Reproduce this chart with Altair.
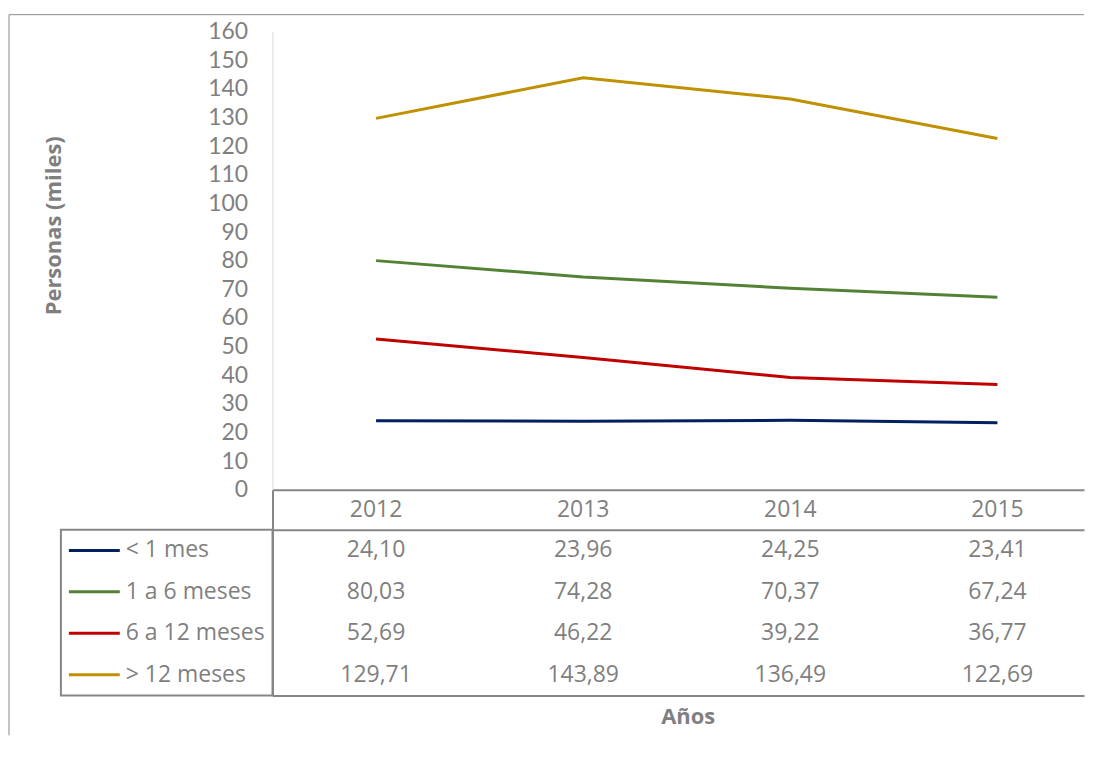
import altair as alt
import pandas as pd

# ---- data -------------------------------------------------------------
years = ["2012", "2013", "2014", "2015"]
series = ["< 1 mes", "1 a 6 meses", "6 a 12 meses", "> 12 meses"]
v_lt1 = [24.10, 23.96, 24.25, 23.41]
v_1a6 = [80.03, 74.28, 70.37, 67.24]
v_6a12 = [52.69, 46.22, 39.22, 36.77]
v_gt12 = [129.71, 143.89, 136.49, 122.69]
colors = ["#002060", "#548235", "#C00000", "#BF9000"]
y_ticks = list(range(0, 161, 10))

rows = []
for s, vals in zip(series, [v_lt1, v_1a6, v_6a12, v_gt12]):
    for yr, v in zip(years, vals):
        rows.append({"serie": s, "anio": yr, "valor": v,
                     "texto": f"{v:.2f}".replace(".", ",")})
df = pd.DataFrame(rows)
df_years = pd.DataFrame({"anio": years, "fila": ["h"] * len(years)})
df_series = pd.DataFrame({"serie": series})
dummy = pd.DataFrame({"k": [0]})

# ---- style ------------------------------------------------------------
FONT = "Open Sans"
AXFONT = "Lato"
GRAY = "#7f7f7f"
LINE = "#868686"
W, H = 813, 459          # visible plot width / height
XR = [0, 830]            # category range (plot runs past the window edge)
LW = 212
HH, TH = 40, 166
LBL = 23
TTL = 22

color_scale = alt.Scale(domain=series, range=colors)


def frame_layer(**axis_kw):
    """Invisible layer that only draws a bottom axis line across the panel."""
    ax = dict(labels=False, ticks=False, grid=False, title=None,
              domainColor=LINE, domainWidth=2)
    ax.update(axis_kw)
    return alt.Chart(dummy).mark_point(opacity=0).encode(
        x=alt.X("k:Q", scale=alt.Scale(domain=[0, 1]), axis=alt.Axis(**ax)))


# ---- top-left spacer with the outer frame -----------------------------
frame_v = alt.Chart(dummy).mark_rule(color="#8a8a8a", strokeWidth=1).encode(
    x=alt.value(-52), y=alt.value(-17), y2=alt.value(705))
frame_h = alt.Chart(dummy).mark_rule(color="#8a8a8a", strokeWidth=1).encode(
    x=alt.value(-52), x2=alt.value(1025), y=alt.value(-17))
spacer_top = alt.layer(frame_v, frame_h).properties(width=LW, height=H)

# ---- line chart -------------------------------------------------------
lines_l = alt.Chart(df).mark_line(strokeWidth=3).encode(
    x=alt.X("anio:N", sort=years,
            scale=alt.Scale(type="point", padding=0.5, range=XR), axis=None),
    y=alt.Y("valor:Q", scale=alt.Scale(domain=[0, 160], nice=False),
            axis=alt.Axis(values=y_ticks, grid=False, ticks=False,
                          domainColor="#d9d9d9", domainWidth=1,
                          labelPadding=25, labelFont=AXFONT, labelFontSize=LBL,
                          labelColor=GRAY, labelOverlap=False,
                          title="Personas (miles)", titleFont=FONT,
                          titleFontSize=TTL, titleFontWeight="bold",
                          titleColor=GRAY, titleX=-219, titleY=194,
                          titleAlign="center", titleBaseline="middle",
                          titleAngle=270)),
    color=alt.Color("serie:N", scale=color_scale, legend=None),
    order=alt.Order("anio:N"),
)
lines = alt.layer(lines_l, frame_layer()).resolve_scale(x="independent") \
    .properties(width=W, height=H)

# ---- header row (years) -----------------------------------------------
spacer_mid = alt.Chart(dummy).mark_point(opacity=0).encode(
    x=alt.value(0), y=alt.value(0)).properties(width=LW, height=HH)

header_t = alt.Chart(df_years).mark_text(
    font=FONT, fontSize=LBL, color=GRAY, baseline="middle").encode(
    x=alt.X("anio:N", sort=years,
            scale=alt.Scale(paddingInner=0, paddingOuter=0, range=XR), axis=None),
    y=alt.Y("fila:N", axis=alt.Axis(labels=False, ticks=False, title=None,
                                    domainColor=LINE, domainWidth=2)),
    text="anio:N",
)
header = alt.layer(header_t, frame_layer()).resolve_scale(x="independent") \
    .properties(width=W, height=HH)

# ---- legend column ----------------------------------------------------
leg_y = alt.Y("serie:N", sort=series, axis=None,
              scale=alt.Scale(paddingInner=0, paddingOuter=0))
leg_sw = alt.Chart(df_series).mark_rule(strokeWidth=3).encode(
    x=alt.value(8), x2=alt.value(59), y=leg_y,
    color=alt.Color("serie:N", scale=color_scale, legend=None))
leg_tx = alt.Chart(df_series).mark_text(
    font=FONT, fontSize=LBL, color=GRAY, align="left", baseline="middle").encode(
    x=alt.value(65), y=leg_y, text="serie:N")
legend = alt.layer(leg_sw, leg_tx).properties(
    width=LW, height=TH,
    view=alt.ViewBackground(stroke=LINE, strokeWidth=2))

# ---- data table -------------------------------------------------------
table_t = alt.Chart(df).mark_text(
    font=FONT, fontSize=LBL, color=GRAY, baseline="middle").encode(
    x=alt.X("anio:N", sort=years,
            scale=alt.Scale(paddingInner=0, paddingOuter=0, range=XR), axis=None),
    y=alt.Y("serie:N", sort=series, scale=alt.Scale(paddingInner=0, paddingOuter=0),
            axis=alt.Axis(labels=False, ticks=False, title=None,
                          domainColor=LINE, domainWidth=2)),
    text="texto:N",
)
table_f = frame_layer(title="Años", titleFont=FONT, titleFontSize=TTL,
                      titleFontWeight="bold", titleColor=GRAY,
                      titlePadding=11, titleX=416, titleAlign="center")
table = alt.layer(table_t, table_f).resolve_scale(x="independent") \
    .properties(width=W, height=TH)

chart = alt.concat(
    spacer_top, lines, spacer_mid, header, legend, table,
    columns=2, spacing=0, bounds="flush",
).properties(
    padding={"left": 0, "top": 5, "right": 0, "bottom": 0}
).configure(font=FONT).configure_view(stroke=None)

chart.save("out.html", embed_options={"renderer": "svg", "actions": False})
